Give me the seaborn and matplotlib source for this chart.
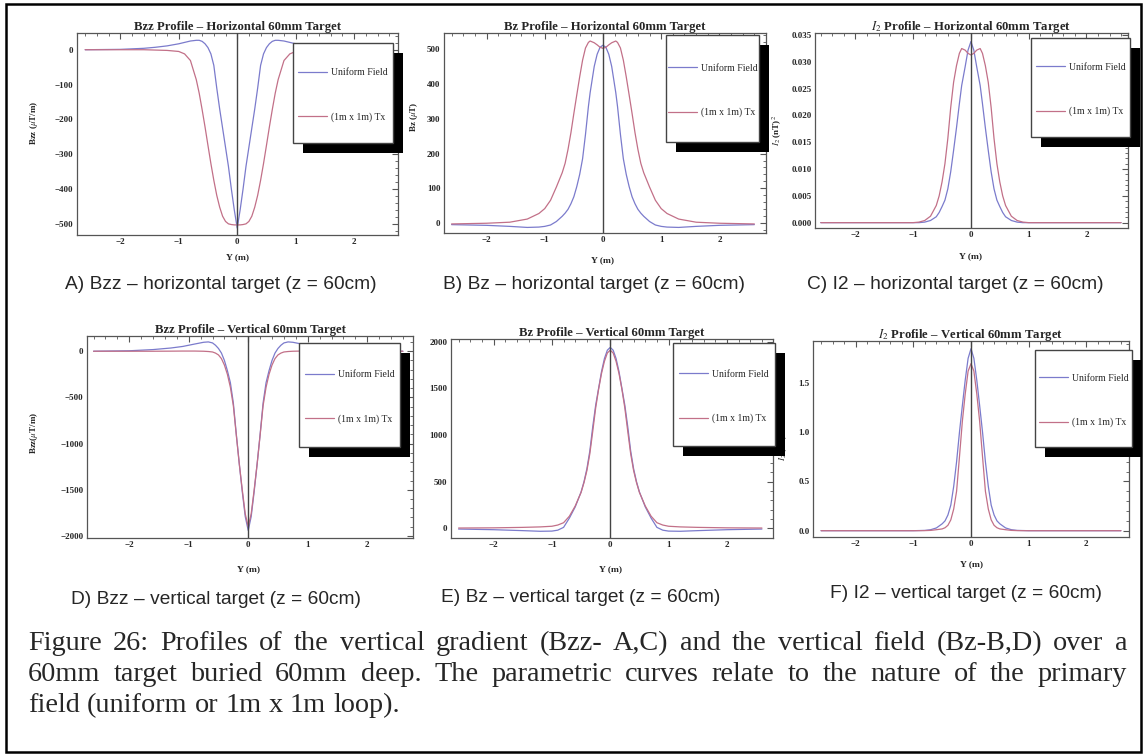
import numpy as np
import pandas as pd
import matplotlib
matplotlib.use("Agg")
import matplotlib.pyplot as plt
import seaborn as sns
from matplotlib.patches import Rectangle
from matplotlib.ticker import MultipleLocator

# ---------------- data ----------------
series_names = ["Uniform Field", "(1m x 1m) Tx"]

y_a = [-2.6, -2.0, -1.6, -1.4, -1.2, -1.0, -0.9, -0.8, -0.7, -0.65, -0.6, -0.55, -0.5, -0.45, -0.4, -0.35, -0.3,
       -0.25, -0.2, -0.15, -0.1, -0.05, 0, 0.05, 0.1, 0.15, 0.2, 0.25, 0.3, 0.35, 0.4, 0.45, 0.5, 0.55, 0.6, 0.65,
       0.7, 0.8, 0.9, 1.0, 1.2, 1.4, 1.6, 2.0, 2.6]
a_uniform = [0, 1, 4, 7, 11, 17, 21, 25, 27, 27, 24, 17, 6, -12, -45, -110, -170, -225, -280, -335, -400, -460,
             -512, -460, -400, -335, -280, -225, -170, -110, -45, -12, 6, 17, 24, 27, 27, 25, 21, 17, 11, 7, 4, 1, 0]
a_loop = [0, 0, 0, -1, -2, -5, -12, -31, -86, -125, -172, -222, -275, -327, -375, -418, -452, -478, -493, -500,
          -502, -503, -503, -503, -502, -500, -493, -478, -452, -418, -375, -327, -275, -222, -172, -125, -86, -31,
          -12, -5, -2, -1, 0, 0, 0]

y_b = [-2.6, -2.0, -1.6, -1.3, -1.1, -1.0, -0.9, -0.8, -0.7, -0.65, -0.6, -0.55, -0.5, -0.45, -0.4, -0.35, -0.3,
       -0.25, -0.22, -0.15, -0.1, -0.05, 0, 0.05, 0.1, 0.15, 0.22, 0.25, 0.3, 0.35, 0.4, 0.45, 0.5, 0.55, 0.6, 0.65,
       0.7, 0.8, 0.9, 1.0, 1.1, 1.3, 1.6, 2.0, 2.6]
b_uniform = [-4, -6, -9, -12, -11, -9, -5, 5, 20, 29, 40, 56, 76, 105, 140, 185, 255, 335, 375, 450, 485, 505, 511,
             505, 485, 450, 375, 335, 255, 185, 140, 105, 76, 56, 40, 29, 20, 5, -5, -9, -11, -12, -9, -6, -4]
b_loop = [-2, 0, 3, 12, 28, 42, 66, 104, 145, 172, 212, 260, 315, 368, 420, 468, 503, 519, 523, 518, 512, 505, 502,
          505, 512, 518, 523, 519, 503, 468, 420, 368, 315, 260, 212, 172, 145, 104, 66, 42, 28, 12, 3, 0, -2]

y_c = [-2.6, -1.5, -1.0, -0.9, -0.8, -0.7, -0.6, -0.55, -0.5, -0.45, -0.4, -0.35, -0.3, -0.25, -0.2, -0.16, -0.1,
       -0.05, 0, 0.05, 0.1, 0.16, 0.2, 0.25, 0.3, 0.35, 0.4, 0.45, 0.5, 0.55, 0.6, 0.7, 0.8, 0.9, 1.0, 1.5, 2.6]
c_uniform = [0, 0, 0, 0, 0.0001, 0.0004, 0.0011, 0.0019, 0.0030, 0.0042, 0.0063, 0.0095, 0.0135, 0.0177, 0.0222,
             0.0256, 0.0291, 0.0322, 0.0338, 0.0322, 0.0291, 0.0256, 0.0222, 0.0177, 0.0135, 0.0095, 0.0063, 0.0042,
             0.0030, 0.0019, 0.0011, 0.0004, 0.0001, 0, 0, 0, 0]
c_loop = [0, 0, 0, 0.0001, 0.0004, 0.0012, 0.0032, 0.0050, 0.0076, 0.0110, 0.0157, 0.0215, 0.0262, 0.0293, 0.0316,
          0.0325, 0.0322, 0.0316, 0.0313, 0.0316, 0.0322, 0.0325, 0.0316, 0.0293, 0.0262, 0.0215, 0.0157, 0.0110,
          0.0076, 0.0050, 0.0032, 0.0012, 0.0004, 0.0001, 0, 0, 0]

y_d = [-2.6, -2.0, -1.6, -1.3, -1.1, -0.9, -0.75, -0.67, -0.6, -0.55, -0.5, -0.45, -0.4, -0.35, -0.3, -0.25, -0.2,
       -0.15, -0.1, -0.05, 0, 0.05, 0.1, 0.15, 0.2, 0.25, 0.3, 0.35, 0.4, 0.45, 0.5, 0.55, 0.6, 0.67, 0.75, 0.9, 1.1,
       1.3, 1.6, 2.0, 2.6]
d_uniform = [0, 5, 18, 35, 52, 78, 97, 101, 90, 65, 30, -20, -100, -210, -340, -560, -900, -1220, -1520, -1790,
             -1940, -1790, -1520, -1220, -900, -560, -340, -210, -100, -20, 30, 65, 90, 101, 97, 78, 52, 35, 18, 5, 0]
d_loop = [0, 0, 0, 1, 2, 2, 0, -3, -8, -20, -40, -80, -150, -250, -390, -590, -910, -1220, -1500, -1760, -1900,
          -1760, -1500, -1220, -910, -590, -390, -250, -150, -80, -40, -20, -8, -3, 0, 2, 2, 1, 0, 0, 0]

y_e = [-2.6, -2.0, -1.5, -1.2, -1.0, -0.9, -0.8, -0.7, -0.6, -0.5, -0.45, -0.4, -0.35, -0.3, -0.25, -0.2, -0.15,
       -0.1, -0.05, 0, 0.05, 0.1, 0.15, 0.2, 0.25, 0.3, 0.35, 0.4, 0.45, 0.5, 0.6, 0.7, 0.8, 0.9, 1.0, 1.2, 1.5, 2.0,
       2.6]
e_uniform = [-8, -15, -25, -32, -30, -20, 10, 110, 230, 390, 500, 640, 830, 1090, 1320, 1500, 1680, 1820, 1910,
             1940, 1910, 1820, 1680, 1500, 1320, 1090, 830, 640, 500, 390, 230, 110, 10, -20, -30, -32, -25, -15, -8]
e_loop = [3, 5, 10, 15, 22, 35, 60, 130, 240, 385, 490, 620, 800, 1040, 1290, 1490, 1660, 1790, 1880, 1910, 1880,
          1790, 1660, 1490, 1290, 1040, 800, 620, 490, 385, 240, 130, 60, 35, 22, 15, 10, 5, 3]

y_f = [-2.6, -1.0, -0.8, -0.7, -0.6, -0.5, -0.45, -0.4, -0.35, -0.3, -0.25, -0.2, -0.15, -0.1, -0.05, 0, 0.05, 0.1,
       0.15, 0.2, 0.25, 0.3, 0.35, 0.4, 0.45, 0.5, 0.6, 0.7, 0.8, 1.0, 2.6]
f_uniform = [0, 0, 0.003, 0.01, 0.028, 0.07, 0.10, 0.16, 0.26, 0.45, 0.70, 1.0, 1.27, 1.53, 1.75, 1.848, 1.75, 1.53,
             1.27, 1.0, 0.70, 0.45, 0.26, 0.16, 0.10, 0.07, 0.028, 0.01, 0.003, 0, 0]
f_loop = [0, 0, 0.001, 0.003, 0.01, 0.018, 0.03, 0.055, 0.11, 0.22, 0.40, 0.75, 1.11, 1.39, 1.62, 1.696, 1.62, 1.39,
          1.11, 0.75, 0.40, 0.22, 0.11, 0.055, 0.03, 0.018, 0.01, 0.003, 0.001, 0, 0]

x_ticks = [-2, -1, 0, 1, 2]
x_tick_labels = ["\u22122", "\u22121", "0", "1", "2"]
a_yticks = [0, -100, -200, -300, -400, -500]
a_ytick_labels = ["0", "\u2212100", "\u2212200", "\u2212300", "\u2212400", "\u2212500"]
b_yticks = [0, 100, 200, 300, 400, 500]
b_ytick_labels = ["0", "100", "200", "300", "400", "500"]
c_yticks = [0.0, 0.005, 0.010, 0.015, 0.020, 0.025, 0.030, 0.035]
c_ytick_labels = ["0.000", "0.005", "0.010", "0.015", "0.020", "0.025", "0.030", "0.035"]
d_yticks = [0, -500, -1000, -1500, -2000]
d_ytick_labels = ["0", "\u2212500", "\u22121000", "\u22121500", "\u22122000"]
e_yticks = [0, 500, 1000, 1500, 2000]
e_ytick_labels = ["0", "500", "1000", "1500", "2000"]
f_yticks = [0.0, 0.5, 1.0, 1.5]
f_ytick_labels = ["0.0", "0.5", "1.0", "1.5"]

titles = ["Bzz Profile \u2013 Horizontal 60mm Target", "Bz Profile \u2013 Horizontal 60mm Target",
          "$I_2$ Profile \u2013 Horizontal 60mm Target", "Bzz Profile \u2013 Vertical 60mm Target",
          "Bz Profile \u2013 Vertical 60mm Target", "$I_2$ Profile \u2013 Vertical 60mm Target"]
ylabels = ["Bzz ($\\mu$T/m)", "Bz ($\\mu$T)", "$I_2$ (nT)$^2$", "Bzz($\\mu$T/m)", "", "$I_2$ (nT)$^2$"]
subtitles = ["A) Bzz \u2013 horizontal target (z = 60cm)", "B) Bz \u2013 horizontal target (z = 60cm)",
             "C) I2 \u2013 horizontal target (z = 60cm)", "D) Bzz \u2013 vertical target (z = 60cm)",
             "E) Bz \u2013 vertical target (z = 60cm)", "F) I2 \u2013 vertical target (z = 60cm)"]
caption_lines = ["Figure 26:  Profiles of the vertical gradient (Bzz- A,C) and the vertical field (Bz-B,D) over a",
                 "60mm target buried 60mm deep.  The parametric curves relate to the nature of the primary",
                 "field (uniform or 1m x 1m loop)."]

# ---------------- style ----------------
sns.set_theme(style="white")
plt.rcParams["font.family"] = ["Liberation Serif", "DejaVu Serif"]
plt.rcParams["mathtext.fontset"] = "stix"
BLUE = "#7b7bcc"
RED = "#c27088"
FRAME = "#555555"

W, H = 1145, 755
fig = plt.figure(figsize=(W / 100, H / 100), dpi=100)
fig.patch.set_facecolor("white")


def add_ax(l, r, t, b):
    return fig.add_axes([l / W, 1 - b / H, (r - l) / W, (b - t) / H])


panels = [
    dict(x=y_a, u=a_uniform, l=a_loop, box=(77, 398, 33, 235), xlim=(-2.74, 2.75), ylim=(-532, 48),
         yt=a_yticks, ytl=a_ytick_labels, minor=20, ylab_x=40, ylab_y=123, xlab_y=253,
         leg=(293, 393, 43, 143)),
    dict(x=y_b, u=b_uniform, l=b_loop, box=(444, 766, 33, 233), xlim=(-2.73, 2.8), ylim=(-28, 546),
         yt=b_yticks, ytl=b_ytick_labels, minor=20, ylab_x=420, ylab_y=117, xlab_y=256,
         leg=(666, 759, 35, 142)),
    dict(x=y_c, u=c_uniform, l=c_loop, box=(815, 1128, 33, 228), xlim=(-2.7, 2.72), ylim=(-0.001, 0.0354),
         yt=c_yticks, ytl=c_ytick_labels, minor=0.001, ylab_x=784, ylab_y=130, xlab_y=252,
         leg=(1031, 1130, 38, 137)),
    dict(x=y_d, u=d_uniform, l=d_loop, box=(87, 413, 336, 538), xlim=(-2.71, 2.77), ylim=(-2022, 165),
         yt=d_yticks, ytl=d_ytick_labels, minor=100, ylab_x=40, ylab_y=433, xlab_y=565,
         leg=(299, 400, 343, 447)),
    dict(x=y_e, u=e_uniform, l=e_loop, box=(451, 773, 339, 538), xlim=(-2.73, 2.79), ylim=(-104, 2030),
         yt=e_yticks, ytl=e_ytick_labels, minor=100, ylab_x=420, ylab_y=430, xlab_y=565,
         leg=(673, 775, 343, 446)),
    dict(x=y_f, u=f_uniform, l=f_loop, box=(813, 1129, 341, 537), xlim=(-2.74, 2.74), ylim=(-0.064, 1.926),
         yt=f_yticks, ytl=f_ytick_labels, minor=0.1, ylab_x=790, ylab_y=445, xlab_y=560,
         leg=(1035, 1132, 350, 447)),
]

sub_pos = [(221, 285), (594, 285), (955, 285), (216, 600), (581, 598), (966, 594)]

for i, p in enumerate(panels):
    l, r, t, b = p["box"]
    ax = add_ax(l, r, t, b)
    df = pd.DataFrame({
        "Y": list(p["x"]) * 2,
        "value": list(p["u"]) + list(p["l"]),
        "series": [series_names[0]] * len(p["x"]) + [series_names[1]] * len(p["x"]),
    })
    sns.lineplot(data=df, x="Y", y="value", hue="series", palette=[BLUE, RED], ax=ax, legend=False,
                 estimator=None, sort=False, linewidth=0.9)
    ax.axvline(0, color="#444444", lw=1.0, zorder=3)
    ax.set_xlim(*p["xlim"])
    ax.set_ylim(*p["ylim"])
    ax.set_xticks(x_ticks, labels=x_tick_labels, fontweight="bold", fontsize=6.5)
    ax.set_yticks(p["yt"], labels=p["ytl"], fontweight="bold", fontsize=6.5)
    ax.xaxis.set_minor_locator(MultipleLocator(0.2))
    ax.yaxis.set_minor_locator(MultipleLocator(p["minor"]))
    ax.tick_params(which="both", direction="in", top=True, right=True, color=FRAME)
    ax.tick_params(which="major", length=4, width=0.8, pad=2.5)
    ax.tick_params(which="minor", length=2, width=0.6)
    for s in ax.spines.values():
        s.set_color(FRAME)
        s.set_linewidth(0.9)
    ax.set_title(titles[i], fontsize=9.2, fontweight="bold", pad=2)
    ax.set_xlabel("Y (m)", fontsize=6.8, fontweight="bold")
    ax.xaxis.set_label_coords((-p["xlim"][0]) / (p["xlim"][1] - p["xlim"][0]), 1 - (p["xlab_y"] - t) / (b - t))
    ax.set_ylabel(ylabels[i], fontsize=6.5, fontweight="bold")
    ax.yaxis.set_label_coords((p["ylab_x"] - l) / (r - l), 1 - (p["ylab_y"] - t) / (b - t))

    # legend box with solid black drop shadow
    lx0, lx1, ly0, ly1 = p["leg"]
    fig.add_artist(Rectangle(((lx0 + 10) / W, 1 - (ly1 + 10) / H), (lx1 - lx0) / W, (ly1 - ly0) / H,
                             transform=fig.transFigure, facecolor="black", edgecolor="none", zorder=5))
    fig.add_artist(Rectangle((lx0 / W, 1 - ly1 / H), (lx1 - lx0) / W, (ly1 - ly0) / H,
                             transform=fig.transFigure, facecolor="white", edgecolor="#444444", lw=1.0, zorder=6))
    handles = ax.get_lines()[:2]
    leg = fig.legend(handles, series_names, loc="center",
                     bbox_to_anchor=((lx0 + lx1) / 2 / W, 1 - ((ly0 + ly1) / 2 + 2) / H),
                     bbox_transform=fig.transFigure, frameon=False,
                     prop={"family": "Liberation Serif", "size": 7}, handlelength=3.0, handletextpad=0.4,
                     labelspacing=3.6)
    leg.set_zorder(7)

for (cx, cy), txt in zip(sub_pos, subtitles):
    fig.text(cx / W, 1 - cy / H, txt, ha="center", va="center", fontsize=13.8, family="Liberation Sans")

# outer border
fig.add_artist(Rectangle((6 / W, 1 - 752 / H), 1135 / W, 748 / H, transform=fig.transFigure, fill=False,
                         edgecolor="black", lw=1.8, zorder=10))

# justified caption
CAP_FS = 20.3
cap_x0, cap_x1 = 28, 1127
baselines = [650, 681, 712]
fig.canvas.draw()
renderer = fig.canvas.get_renderer()
t1 = fig.text(0, 0, "a a", fontsize=CAP_FS, family="Liberation Serif")
t2 = fig.text(0, 0, "aa", fontsize=CAP_FS, family="Liberation Serif")
space_w = t1.get_window_extent(renderer).width - t2.get_window_extent(renderer).width
t1.remove()
t2.remove()
for k, (line, yb) in enumerate(zip(caption_lines, baselines)):
    words = line.split()
    tobjs = [fig.text(0, 1 - yb / H, w_, fontsize=CAP_FS, family="Liberation Serif", va="baseline", ha="left")
             for w_ in words]
    widths = [t_.get_window_extent(renderer).width for t_ in tobjs]
    if k < len(caption_lines) - 1:
        gap = max((cap_x1 - cap_x0 - sum(widths)) / (len(words) - 1), space_w * 0.6)
    else:
        gap = space_w
    xx = cap_x0
    for t_, w_ in zip(tobjs, widths):
        t_.set_x(xx / W)
        xx += w_ + gap

fig.savefig("out.png", dpi=100)
